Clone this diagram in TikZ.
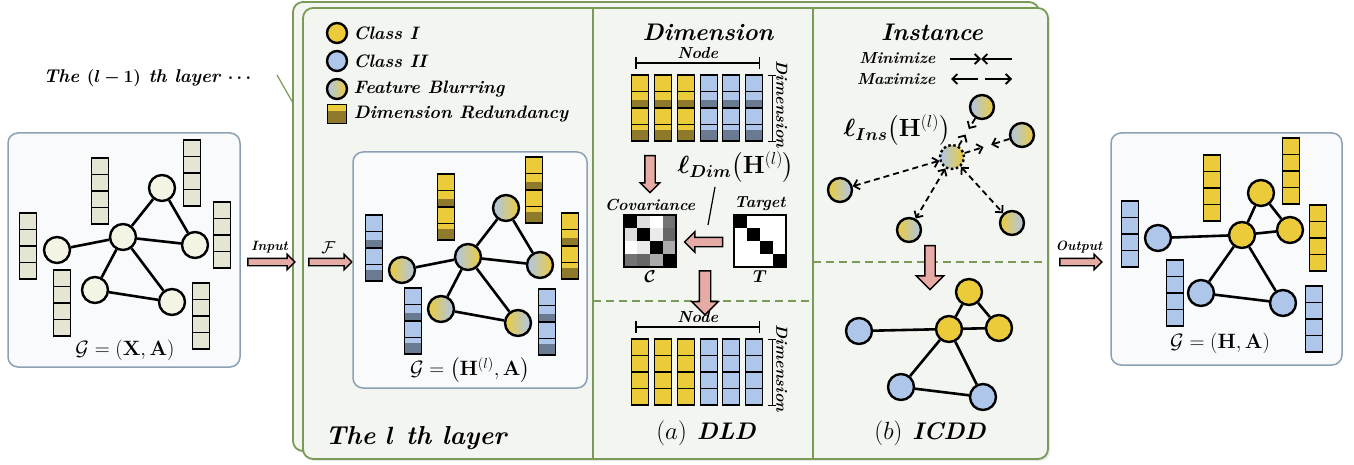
\documentclass[tikz,border=0pt]{standalone}
\usepackage{amsmath}
\usepackage{bm}
\usepackage{tikz}
\usetikzlibrary{shapes.arrows, arrows.meta, positioning, calc, shadows}

\definecolor{clsone}{HTML}{ECCB3B}
\definecolor{clstwo}{HTML}{ADC6EA}
\definecolor{redone}{HTML}{8F7A2C}
\definecolor{redtwo}{HTML}{6A7A90}
\definecolor{plain}{HTML}{F3F4E4}
\definecolor{plaincell}{HTML}{E4E6D3}
\definecolor{panelfill}{HTML}{F9FAFC}
\definecolor{panelline}{HTML}{8CA0B3}
\definecolor{layerfill}{HTML}{F3F5F1}
\definecolor{layerline}{HTML}{7A9A58}
\definecolor{blockpink}{HTML}{E6ABA4}

% feature vector: x centre, y top, cell fill, redundant fill
\newcommand{\featvec}[4]{%
  \fill[#3] (#1-8.5,#2) rectangle ++(17,66);
  \fill[#4] (#1-8.5,#2+25) rectangle ++(17,8);
  \fill[#4] (#1-8.5,#2+55) rectangle ++(17,11);
  \foreach \k in {0,1,2,3}
    \draw[cell] (#1-8.5,#2+16.5*\k) rectangle ++(17,16.5);
}

\begin{document}
\begin{tikzpicture}[x=1pt, y=-1pt,
    font=\bfseries\itshape,
    gnode/.style={circle, draw=black, line width=2.4pt, minimum size=26pt, inner sep=0pt},
    inode/.style={gnode, minimum size=24pt},
    link/.style={line width=2.6pt},
    cell/.style={draw=black, line width=1.8pt},
    gpanel/.style={rectangle, rounded corners=10pt, draw=panelline, line width=1.5pt, fill=panelfill},
    layer/.style={rectangle, rounded corners=10pt, draw=layerline, line width=1.8pt, fill=layerfill,
                  drop shadow={opacity=0.18, shadow xshift=2pt, shadow yshift=-2pt}},
    blk/.style={single arrow, draw=black, line width=1.4pt, fill=blockpink, inner sep=0pt,
                text height=6pt, text depth=0pt, single arrow head extend=4pt},
    sz/.style={font=\fontsize{#1}{#1}\selectfont\bfseries\itshape},
    bracket/.style={{Bar[width=#1]}-{Bar[width=#1]}, line width=1.5pt},
    maxarr/.style={{Straight Barb[length=5pt, width=10pt]}-{Straight Barb[length=5pt, width=10pt]},
                   line width=1.8pt, dash pattern=on 6pt off 4pt},
    minarr/.style={-{Straight Barb[length=5pt, width=10pt]}, line width=1.8pt, dash pattern=on 6pt off 4pt},
    legarr/.style={-{Straight Barb[length=5pt, width=10pt]}, line width=1.8pt},
    divider/.style={draw=layerline, line width=1.8pt},
    split/.style={draw=layerline, line width=1.5pt, dash pattern=on 8pt off 5pt},
  ]
  \useasboundingbox (0,0) rectangle (1354,465);

  % Previous layer
  \node[sz=18.5] (prevlayer) at (149,78) {The $\bm{(l-1)}$ th layer $\bm{\cdots}$};
  \coordinate (tail) at (277,75);
  \coordinate (joint) at (293,103);

  % Layer panels
  \node[layer, minimum width=746pt, minimum height=449pt] (back) at (666,226.5) {};
  \node[layer, minimum width=745pt, minimum height=451pt] (front) at (675.5,233.5) {};
  \draw[layerline, line width=1.2pt] (tail) -- (joint);
  \draw[divider] (593,8) -- (593,459);
  \draw[divider] (813,8) -- (813,459);
  \draw[split] (593,301) -- (813,301);
  \draw[split] (813,262) -- (1048,262);

  % Input graph
  \node[gpanel, minimum width=232pt, minimum height=234pt] (inpanel) at (124,250) {};
  \featvec{28}{213}{plaincell}{plaincell}
  \featvec{100}{158}{plaincell}{plaincell}
  \featvec{192}{140}{plaincell}{plaincell}
  \featvec{222}{202}{plaincell}{plaincell}
  \featvec{62}{270}{plaincell}{plaincell}
  \featvec{201}{283}{plaincell}{plaincell}
  \node[gnode, fill=plain] (x1) at (57,250) {};
  \node[gnode, fill=plain] (x2) at (123,237) {};
  \node[gnode, fill=plain] (x3) at (162,188) {};
  \node[gnode, fill=plain] (x4) at (195,245) {};
  \node[gnode, fill=plain] (x5) at (95,290) {};
  \node[gnode, fill=plain] (x6) at (172,302) {};
  \foreach \a/\b in {x1/x2, x2/x3, x3/x4, x2/x4, x2/x5, x2/x6, x5/x6}
    \draw[link] (\a) -- (\b);
  \node[sz=21] (inlabel) at (125,350) {$\mathcal{G}=(\mathbf{X},\mathbf{A})$};

  % Input arrow
  \node[blk, minimum height=47pt] (inarr) at (269.5,262) {};
  \node[sz=13.5, above=1pt of inarr] (intxt) {Input};

  % Legend
  \node[gnode, minimum size=20pt, fill=clsone] (leg1) at (337,33) {};
  \node[gnode, minimum size=20pt, fill=clstwo] (leg2) at (337,61) {};
  \node[gnode, minimum size=20pt, left color=clstwo, right color=clsone] (leg3) at (337,89) {};
  \node[rectangle, draw=black, line width=1.5pt, minimum size=19pt, inner sep=0pt, fill=redone,
        path picture={\fill[clsone] (path picture bounding box.north west)
          rectangle ([yshift=-7pt]path picture bounding box.north east);}] (leg4) at (337,114) {};
  \node[sz=18, anchor=west] (leg1txt) at ([xshift=2pt]leg1.east) {Class I};
  \node[sz=18, anchor=west] (leg2txt) at ([xshift=2pt]leg2.east) {Class II};
  \node[sz=18, anchor=west] (leg3txt) at ([xshift=2pt]leg3.east) {Feature Blurring};
  \node[sz=18, anchor=west] (leg4txt) at ([xshift=3pt]leg4.east) {Dimension Redundancy};

  % F arrow
  \node[blk, minimum height=43pt] (farr) at (328.5,262) {};
  \node[sz=18, above=1pt of farr] (ftxt) {$\mathcal{F}$};

  % Blurred graph of the l th layer
  \node[gpanel, minimum width=234pt, minimum height=236pt] (hpanel) at (470,270) {};
  \featvec{374}{215}{clstwo}{redtwo}
  \featvec{413}{288}{clstwo}{redtwo}
  \featvec{446}{174}{clsone}{redone}
  \featvec{534}{157}{clsone}{redone}
  \featvec{570}{213}{clsone}{redone}
  \featvec{547}{289}{clstwo}{redtwo}
  \node[gnode, left color=clsone, right color=clstwo] (h1) at (402,270) {};
  \node[gnode, left color=clstwo, right color=clsone] (h2) at (468,257) {};
  \node[gnode, left color=clstwo, right color=clsone] (h3) at (506,208) {};
  \node[gnode, left color=clstwo, right color=clsone] (h4) at (540,265) {};
  \node[gnode, left color=clsone, right color=clstwo] (h5) at (441,309) {};
  \node[gnode, left color=clsone, right color=clstwo] (h6) at (518,323) {};
  \foreach \a/\b in {h1/h2, h2/h3, h3/h4, h2/h4, h2/h5, h2/h6, h5/h6}
    \draw[link] (\a) -- (\b);
  \node[sz=21] (hlabel) at (470,370) {$\mathcal{G}=\big(\mathbf{H}^{(l)},\mathbf{A}\big)$};
  \node[sz=26] (layertxt) at (416,438) {The $\bm{l}$ th layer};

  % Dimension
  \node[sz=24] (dimtitle) at (708,32) {Dimension};
  \foreach \x/\c/\d in {640/clsone/redone, 663/clsone/redone, 686/clsone/redone,
                        709/clstwo/redtwo, 731/clstwo/redtwo, 754/clstwo/redtwo}
    \featvec{\x}{75}{\c}{\d}
  \node[inner sep=0pt, minimum width=131pt, minimum height=67pt] (dimtop) at (696.75,108.5) {};
  \draw[bracket=12pt] ([xshift=4pt, yshift=12pt]dimtop.north west)
    -- ([xshift=-2pt, yshift=12pt]dimtop.north east)
    node[midway, above=0pt, sz=16] (nodetop) {Node};
  \draw[bracket=8pt] ([xshift=10pt]dimtop.north east) -- ([xshift=10pt]dimtop.south east)
    node[midway, sz=16, rotate=-90, anchor=south, inner sep=3pt, xshift=-4pt] (dimtoptxt) {Dimension};

  \node[blk, rotate=-90, text height=9pt, single arrow head extend=4.5pt, minimum height=37pt] (covarr) at (650,171.5) {};
  \node[sz=23] (lossdim) at (736,167) {$\bm{\ell}_{\bm{Dim}}\big(\mathbf{H}^{(l)}\big)$};

  % Covariance and target
  \foreach \v [count=\i from 0] in {100,13,0,55, 13,100,8,60, 0,8,100,33, 55,60,33,100} {
    \pgfmathtruncatemacro{\cc}{mod(\i,4)}
    \pgfmathtruncatemacro{\rr}{\i/4}
    \fill[black!\v] (624+13*\cc,215+13*\rr) rectangle ++(13,13);
  }
  \node[draw=black, line width=2pt, minimum size=52pt, inner sep=0pt] (covm) at (650,241) {};
  \fill[white] (734,215) rectangle ++(52,52);
  \foreach \k in {0,1,2,3}
    \fill[black] (734+13*\k,215+13*\k) rectangle ++(13,13);
  \node[draw=black, line width=2pt, minimum size=52pt, inner sep=0pt] (tgtm) at (760,241) {};
  \node[sz=16, above=0pt of covm] (covtxt) {Covariance};
  \node[sz=16, above=0pt of tgtm] (tgttxt) {Target};
  \node[sz=19, below=-1pt of covm] (ctxt) {$\bm{\mathcal{C}}$};
  \node[sz=19, below=-1pt of tgtm] (ttxt) {$\bm{T}$};
  \node[blk, rotate=180, text height=8pt, single arrow head extend=5.5pt, minimum height=38pt] (tcarr) at (706,242) {};
  \draw[line width=1.2pt] ([xshift=-21pt, yshift=-1pt]lossdim.south) -- ([xshift=2pt, yshift=17pt]tcarr.center);

  \node[blk, rotate=-90, text height=10pt, single arrow head extend=7.5pt, minimum height=44pt] (dldarr) at (705,290) {};

  % Decorrelated dimensions
  \foreach \x/\c in {640/clsone, 663/clsone, 686/clsone, 709/clstwo, 731/clstwo, 754/clstwo}
    \featvec{\x}{339}{\c}{\c}
  \node[inner sep=0pt, minimum width=131pt, minimum height=67pt] (dimbot) at (696.75,372.5) {};
  \draw[bracket=12pt] ([xshift=4pt, yshift=12pt]dimbot.north west)
    -- ([xshift=-2pt, yshift=12pt]dimbot.north east)
    node[midway, above=0pt, sz=16] (nodebot) {Node};
  \draw[bracket=8pt] ([xshift=10pt]dimbot.north east) -- ([xshift=10pt]dimbot.south east)
    node[midway, sz=16, rotate=-90, anchor=south, inner sep=3pt, xshift=-4pt] (dimbottxt) {Dimension};
  \node[sz=24] (capa) at (706,433) {$(a)$ DLD};

  % Instance
  \node[sz=24] (institle) at (932,32) {Instance};
  \node[sz=16, anchor=east] (mintxt) at (939,58) {Minimize};
  \node[sz=16, anchor=east] (maxtxt) at (939,79) {Maximize};
  \coordinate (mina) at (950,59);
  \coordinate (minb) at (981,59);
  \coordinate (minc) at (1012,59);
  \coordinate (maxa) at (951,79);
  \coordinate (maxb) at (978,79);
  \coordinate (maxc) at (985,79);
  \coordinate (maxd) at (1012,79);
  \draw[legarr] (mina) -- (minb);
  \draw[legarr] (minc) -- (minb);
  \draw[legarr] (maxb) -- (maxa);
  \draw[legarr] (maxc) -- (maxd);

  \node[inode, dash pattern=on 2.5pt off 2.5pt, left color=clstwo, right color=clsone] (anc) at (952,157) {};
  \node[inode, left color=clstwo, right color=clsone] (pos1) at (982,107) {};
  \node[inode, left color=clstwo, right color=clsone] (pos2) at (1022,135) {};
  \node[inode, left color=clsone, right color=clstwo] (neg1) at (840,190) {};
  \node[inode, left color=clsone, right color=clstwo] (neg2) at (909,230) {};
  \node[inode, left color=clsone, right color=clstwo] (neg3) at (1012,223) {};
  \foreach \p in {pos1, pos2} {
    \draw[minarr] (\p) -- ($(\p)!0.44!(anc)$);
    \draw[minarr] (anc) -- ($(\p)!0.55!(anc)$);
  }
  \foreach \n in {neg1, neg2, neg3}
    \draw[maxarr] (anc) -- (\n);
  \node[sz=23] (lossins) at (897,130) {$\bm{\ell}_{\bm{Ins}}\big(\mathbf{H}^{(l)}\big)$};

  \node[blk, rotate=-90, text height=9pt, single arrow head extend=8.5pt, minimum height=44pt] (icddarr) at (930,265) {};

  % Class-separated graph
  \node[gnode, fill=clsone] (c1) at (969,292) {};
  \node[gnode, fill=clsone] (c0) at (949,329) {};
  \node[gnode, fill=clsone] (c2) at (999,328) {};
  \node[gnode, fill=clstwo] (d0) at (859,331) {};
  \node[gnode, fill=clstwo] (d1) at (901,387) {};
  \node[gnode, fill=clstwo] (d2) at (983,397) {};
  \foreach \a/\b in {d0/c0, c0/c1, c1/c2, c0/c2, c0/d1, c0/d2, d1/d2}
    \draw[link] (\a) -- (\b);
  \node[sz=24] (capb) at (930,433) {$(b)$ ICDD};

  % Output arrow
  \node[blk, minimum height=42pt] (outarr) at (1079,262) {};
  \node[sz=13.5, above=1pt of outarr] (outtxt) {Output};

  % Output graph
  \node[gpanel, minimum width=231pt, minimum height=232pt] (outpanel) at (1226.5,249) {};
  \featvec{1130}{201}{clstwo}{clstwo}
  \featvec{1175}{260}{clstwo}{clstwo}
  \featvec{1212}{155}{clsone}{clsone}
  \featvec{1291}{138}{clsone}{clsone}
  \featvec{1318}{205}{clsone}{clsone}
  \featvec{1314}{286}{clstwo}{clstwo}
  \node[gnode, fill=clstwo] (o1) at (1158,238) {};
  \node[gnode, fill=clsone] (o2) at (1242,235) {};
  \node[gnode, fill=clsone] (o3) at (1261,193) {};
  \node[gnode, fill=clsone] (o4) at (1290,230) {};
  \node[gnode, fill=clstwo] (o5) at (1201,293) {};
  \node[gnode, fill=clstwo] (o6) at (1283,303) {};
  \foreach \a/\b in {o1/o2, o2/o3, o3/o4, o2/o4, o2/o5, o2/o6, o5/o6}
    \draw[link] (\a) -- (\b);
  \node[sz=21] (outlabel) at (1220,343) {$\mathcal{G}=(\mathbf{H},\mathbf{A})$};

\end{tikzpicture}
\end{document}
